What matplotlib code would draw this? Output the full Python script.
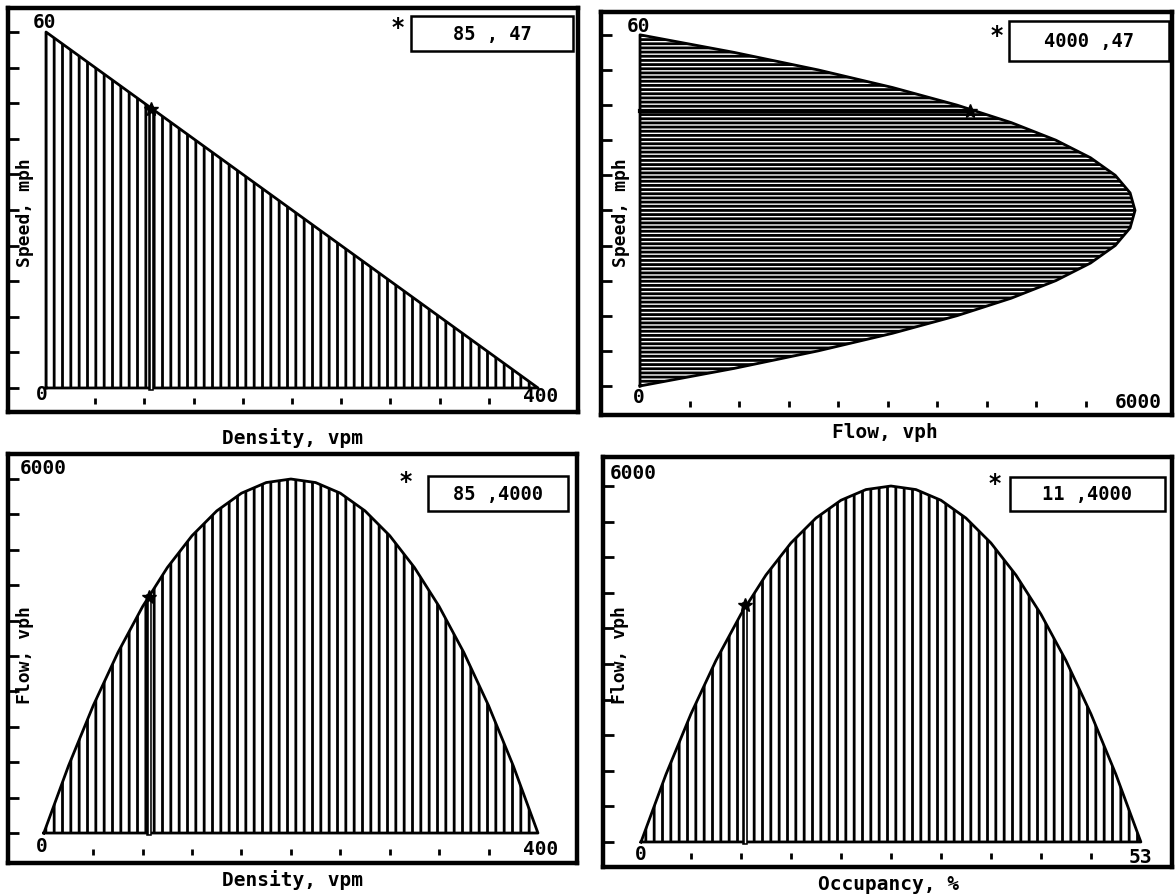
import numpy as np
import matplotlib.pyplot as plt
from matplotlib.patches import Rectangle
from matplotlib.transforms import blended_transform_factory

plt.rcParams["font.family"] = ["DejaVu Sans Mono"]
plt.rcParams["font.weight"] = "bold"
plt.rcParams["hatch.linewidth"] = 2.0

# Greenshields relation sampled along density (vpm)
density = [0, 20, 40, 60, 80, 100, 120, 140, 160, 180, 200,
           220, 240, 260, 280, 300, 320, 340, 360, 380, 400]
speed = [60, 57, 54, 51, 48, 45, 42, 39, 36, 33, 30,
         27, 24, 21, 18, 15, 12, 9, 6, 3, 0]
flow = [0, 1140, 2160, 3060, 3840, 4500, 5040, 5460, 5760, 5940, 6000,
        5940, 5760, 5460, 5040, 4500, 3840, 3060, 2160, 1140, 0]
occupancy = [0, 2.65, 5.3, 7.95, 10.6, 13.25, 15.9, 18.55, 21.2, 23.85, 26.5,
             29.15, 31.8, 34.45, 37.1, 39.75, 42.4, 45.05, 47.7, 50.35, 53]

# operating point shown in the readouts
pt_density = 85
pt_speed = 47
pt_flow = 4000
pt_occ = 11

W, H = 1176, 895
fig = plt.figure(figsize=(W / 100, H / 100), dpi=100)


def panel(box, xlim, ylim, xmax, ymax):
    x0, y0, x1, y1 = box
    ax = fig.add_axes([x0 / W, 1 - y1 / H, (x1 - x0) / W, (y1 - y0) / H])
    ax.set_xlim(*xlim)
    ax.set_ylim(*ylim)
    for s in ax.spines.values():
        s.set_linewidth(3.2)
    ax.set_xticks([])
    ax.set_yticks(np.linspace(0, ymax, 11))
    ax.tick_params(axis="y", direction="in", length=8, width=2, labelleft=False)
    # small dots standing in for x ticks
    tr = blended_transform_factory(ax.transData, ax.transAxes)
    ax.plot(np.linspace(0, xmax, 11)[1:-1], [0.028] * 9, ls="none",
            marker="|", ms=4, mew=2, color="black", transform=tr)
    return ax


def ftext(x, y, s, size=14, **kw):
    fig.text(x / W, 1 - y / H, s, ha="center", va="center", size=size, **kw)


def readout(box, star, label):
    x0, y0, x1, y1 = box
    fig.add_artist(Rectangle((x0 / W, 1 - y1 / H), (x1 - x0) / W, (y1 - y0) / H,
                             transform=fig.transFigure, fill=False, lw=1.8,
                             edgecolor="black"))
    ftext(star[0], star[1] + 4, "*", size=17)
    ftext((x0 + x1) / 2, (y0 + y1) / 2, label, size=13.5)


# speed vs density
ax1 = panel((8, 9, 578, 413), (-30.9, 432.5), (-4.05, 64.05), 400, 60)
ax1.fill_between(density, 0, speed, hatch="||", facecolor="white",
                 edgecolor="black", lw=0)
ax1.plot([0] + density + [0], [0] + speed + [0], color="black", lw=2)
ax1.plot([pt_density, pt_density], [0, pt_speed], color="black", lw=4)
ax1.plot([pt_density, pt_density], [0, pt_speed], color="white", lw=1)
ax1.plot(pt_density, pt_speed, marker="*", ms=10, color="black")
ftext(45, 23, "60")
ftext(42, 395, "0")
ftext(541, 397, "400")
ftext(292, 438, "Density, vpm")
ftext(25, 213, "Speed, mph", size=13, rotation=90)
readout((411, 17, 573, 52), (398, 24), "85 , 47")

# speed vs flow
ax2 = panel((601, 13, 1172, 416), (-473, 6448), (-4.96, 63.9), 6000, 60)
ax2.fill_betweenx(speed, 0, flow, hatch="----", facecolor="white",
                  edgecolor="black", lw=0)
ax2.plot([0] + flow + [0], [0] + speed + [0], color="black", lw=2)
ax2.plot([0, pt_flow], [pt_speed, pt_speed], color="black", lw=3)
ax2.plot(pt_flow, pt_speed, marker="*", ms=10, color="black")
ftext(639, 27, "60")
ftext(639, 398, "0")
ftext(1138, 403, "6000")
ftext(885, 433, "Flow, vph")
ftext(621, 213, "Speed, mph", size=13, rotation=90)
readout((1009, 22, 1169, 62), (997, 32), "4000 ,47")

# flow vs density
ax3 = panel((8, 455, 577, 864), (-29, 431.6), (-508, 6424), 400, 6000)
ax3.fill_between(density, 0, flow, hatch="||", facecolor="white",
                 edgecolor="black", lw=0)
ax3.plot(density + [0], flow + [0], color="black", lw=2)
ax3.plot([pt_density, pt_density], [0, pt_flow], color="black", lw=4)
ax3.plot([pt_density, pt_density], [0, pt_flow], color="white", lw=1)
ax3.plot(pt_density, pt_flow, marker="*", ms=10, color="black")
ftext(43, 469, "6000")
ftext(42, 847, "0")
ftext(541, 850, "400")
ftext(293, 880, "Density, vpm")
ftext(25, 655, "Flow, vph", size=13, rotation=90)
readout((428, 477, 568, 512), (406, 478), "85 ,4000")

# flow vs occupancy
ax4 = panel((603, 458, 1172, 868), (-4.03, 56.3), (-422, 6489), 53, 6000)
ax4.fill_between(occupancy, 0, flow, hatch="||", facecolor="white",
                 edgecolor="black", lw=0)
ax4.plot(occupancy + [0], flow + [0], color="black", lw=2)
ax4.plot([pt_occ, pt_occ], [0, pt_flow], color="black", lw=4)
ax4.plot([pt_occ, pt_occ], [0, pt_flow], color="white", lw=1)
ax4.plot(pt_occ, pt_flow, marker="*", ms=10, color="black")
ftext(633, 474, "6000")
ftext(641, 855, "0")
ftext(1140, 858, "53")
ftext(889, 885, "Occupancy, %")
ftext(620, 655, "Flow, vph", size=13, rotation=90)
readout((1010, 478, 1165, 512), (995, 480), "11 ,4000")

fig.savefig("out.png", dpi=100, facecolor="white")
